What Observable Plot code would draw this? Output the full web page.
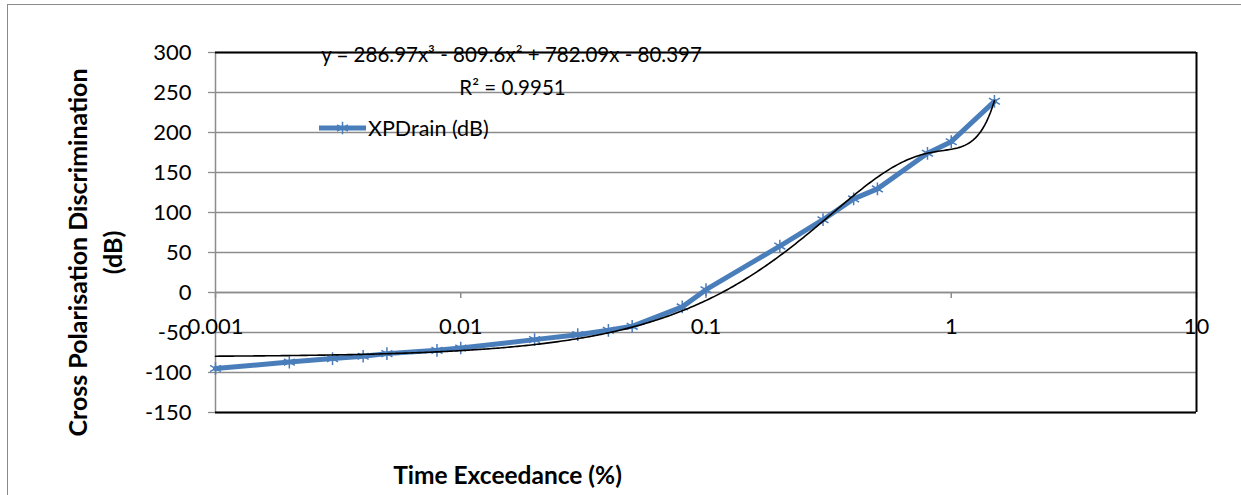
<!DOCTYPE html>
<html><head><meta charset="utf-8">
<script src="https://cdn.jsdelivr.net/npm/d3@7"></script>
<script src="https://cdn.jsdelivr.net/npm/@observablehq/plot@0.6"></script>
<style>
body{margin:0;background:#fff;}
#wrap{position:relative;width:1241px;height:495px;overflow:hidden;font-family:Lato, "Open Sans", sans-serif;}
#border{position:absolute;left:7px;top:4px;width:1400px;height:700px;border:1.5px solid #8a8a8a;box-sizing:border-box;}
#chart{position:absolute;left:0;top:0;}
#legend{position:absolute;left:319px;top:114px;height:28px;display:flex;align-items:center;font-size:21.5px;color:#000;white-space:nowrap;}
#legend svg{display:block;margin-right:2px;}
</style>
</head><body>
<div id="wrap"><div id="border"></div><div id="chart"></div>
<div id="legend"><svg width="47" height="16"><line x1="0" y1="8" x2="47" y2="8" stroke="#4A7EBB" stroke-width="5"/><path id="lgsym" transform="translate(23.5,8)" stroke="#4A7EBB" stroke-width="1.5" fill="none"/></svg><span id="legtext"></span></div>
</div>
<script>
// ---- data ----
const exceedance = [0.001,0.002,0.003,0.004,0.005,0.008,0.01,0.02,0.03,0.04,0.05,0.08,0.1,0.2,0.3,0.4,0.5,0.8,1,1.5];
const xpdRain = [-95,-87,-82.6,-79.7,-76.4,-72.3,-69.4,-58.9,-52.7,-47.3,-42.3,-18,3.5,58,91,117,129.5,174,188.5,239];
const trendCoef = [286.97, -809.6, 782.09, -80.397]; // cubic trendline, x^3..x^0
const equationText = "y = 286.97x³ - 809.6x² + 782.09x - 80.397";
const r2Text = "R² = 0.9951";
const seriesName = "XPDrain (dB)";
const yTicks = [-150,-100,-50,0,50,100,150,200,250,300];
const xTicks = [0.001,0.01,0.1,1,10];
const xTickLabels = ["0.001","0.01","0.1","1","10"];
const xTitle = "Time Exceedance (%)";
const yTitle = "Cross Polarisation Discrimination\n(dB)";

const data = exceedance.map((x,i)=>({x, y:xpdRain[i]}));
const trend = d3.range(0,401).map(i=>{
  const x = exceedance[0]*Math.pow(exceedance[exceedance.length-1]/exceedance[0], i/400);
  const [a,b,c,d] = trendCoef;
  return {x, y: a*x*x*x + b*x*x + c*x + d};
});

const blue = "#4A7EBB", grid = "#8c8c8c", fs = 22;
const chart = Plot.plot({
  width:1241, height:495, marginLeft:215, marginRight:45, marginTop:52, marginBottom:83,
  x:{type:"log", domain:[0.001,10], axis:null},
  y:{domain:[-150,300], axis:null},
  style:{fontFamily:'Lato, "Open Sans", sans-serif', fontSize:fs+"px", color:"#000", background:"transparent", overflow:"visible"},
  marks:[
    Plot.gridY(yTicks, {stroke:grid, strokeOpacity:1, strokeWidth:1.3}),
    Plot.ruleX([0.001], {stroke:grid, strokeWidth:1.5}),
    Plot.axisY(yTicks, {tickSize:7, tickPadding:17, stroke:grid, strokeWidth:1.3, label:null, fontSize:fs, tickFormat:d=>String(d), fill:"#000"}),
    Plot.ruleY([0], {stroke:grid, strokeWidth:1.5}),
    Plot.ruleX(xTicks, {x:d=>d, y1:0, y2:-7.5, stroke:grid, strokeWidth:1.5}),
    Plot.text(xTicks, {x:d=>d, y:0, dy:34, text:(d,i)=>xTickLabels[i], fontSize:fs, fill:"#000"}),
    Plot.ruleY([300,-150], {stroke:"#000", strokeWidth:2}),
    Plot.ruleX([10], {stroke:"#000", strokeWidth:2}),
    Plot.line(data, {x:"x", y:"y", stroke:blue, strokeWidth:5, strokeLinejoin:"round"}),
    Plot.dot(data, {x:"x", y:"y", symbol:"asterisk", r:6, stroke:blue, strokeWidth:1.5}),
    Plot.line(trend, {x:"x", y:"y", stroke:"#000", strokeWidth:1.6}),
    Plot.text([equationText], {frameAnchor:"top-left", dx:296, dy:3, textAnchor:"middle", lineAnchor:"middle", fontSize:20.5, fill:"#000"}),
    Plot.text([r2Text], {frameAnchor:"top-left", dx:297, dy:36, textAnchor:"middle", lineAnchor:"middle", fontSize:20.5, fill:"#000"}),
    Plot.text([xTitle], {frameAnchor:"bottom-left", dx:292, dy:71, textAnchor:"middle", fontSize:24.5, fontWeight:"bold", fill:"#000"}),
    Plot.text([yTitle], {frameAnchor:"left", dx:-122, dy:20, rotate:-90, textAnchor:"middle", lineAnchor:"middle", lineHeight:1.38, fontSize:25, fontWeight:"bold", fill:"#000"})
  ]
});
document.getElementById("chart").appendChild(chart);
document.getElementById("lgsym").setAttribute("d", d3.symbol(d3.symbolAsterisk, Math.PI*36)());
document.getElementById("legtext").textContent = seriesName;
</script>
</body></html>
